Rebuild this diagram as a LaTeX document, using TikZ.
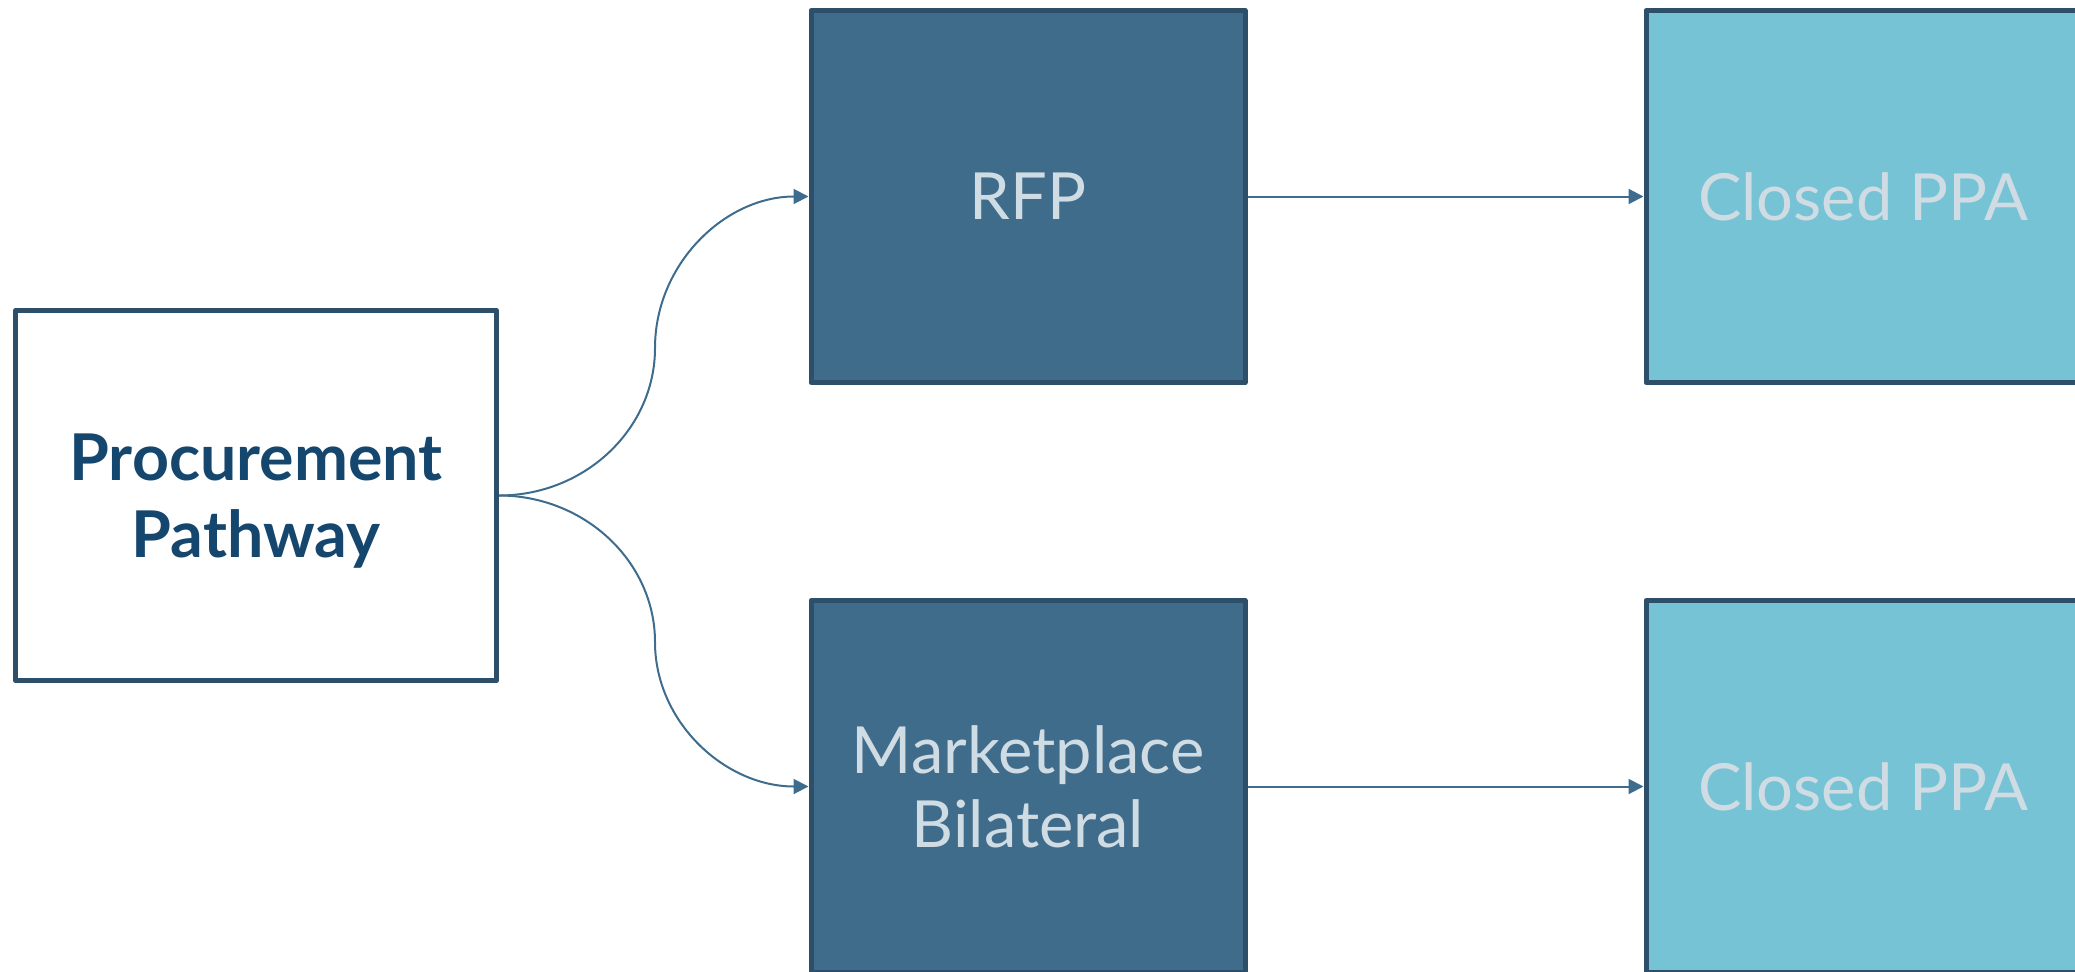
\documentclass[tikz,border=0pt]{standalone}
\usepackage{fontspec}
\setmainfont{Lato}
\usetikzlibrary{arrows.meta}
\definecolor{boxborder}{HTML}{2D4F6A}
\definecolor{darkfill}{HTML}{406C8C}
\definecolor{lightfill}{HTML}{77C3D6}
\definecolor{paletext}{HTML}{D0DCE4}
\definecolor{titletext}{HTML}{15476E}
\definecolor{linkcol}{HTML}{3E6C8E}
\tikzset{
  basebox/.style={draw=boxborder, line width=5bp, line join=round, rectangle, inner sep=0pt,
    minimum width=434bp, minimum height=372bp, align=center},
  startbox/.style={basebox, fill=white, minimum width=481bp, minimum height=370bp,
    text=titletext, font=\fontsize{64.5bp}{77bp}\selectfont\bfseries,
    text height=140bp, text depth=17bp},
  midbox/.style={basebox, fill=darkfill, text=paletext, font=\fontsize{65bp}{74bp}\selectfont},
  endbox/.style={basebox, fill=lightfill, text=paletext, font=\fontsize{65bp}{74bp}\selectfont},
  link/.style={draw=linkcol, line width=2bp, -{Triangle[length=15bp,width=15bp]}}
}
\begin{document}
\begin{tikzpicture}[x=1bp,y=-1bp]
\useasboundingbox (0,0) rectangle (2075,972);
\clip (0,0) rectangle (2075,972);
\node[startbox] (P) at (256,495.5) {Procurement\\Pathway};
\node[midbox] (RFP) at (1028,196.5) {RFP};
\node[midbox] (MB) at (1028,786.5) {Marketplace\\Bilateral};
\node[endbox] (C1) at (1863,196.5) {Closed PPA};
\node[endbox] (C2) at (1863,786.5) {Closed PPA};
\coordinate (m1) at (655,348);
\coordinate (m2) at (655,642);
\draw[link] (P.east) .. controls (585,495.5) and (655,429) .. (m1)
  .. controls (655,264) and (725,196.5) .. (RFP.west);
\draw[link] (P.east) .. controls (585,495.5) and (655,562) .. (m2)
  .. controls (655,722) and (725,786.5) .. (MB.west);
\draw[link] (RFP.east) -- (C1.west);
\draw[link] (MB.east) -- (C2.west);
\end{tikzpicture}
\end{document}
